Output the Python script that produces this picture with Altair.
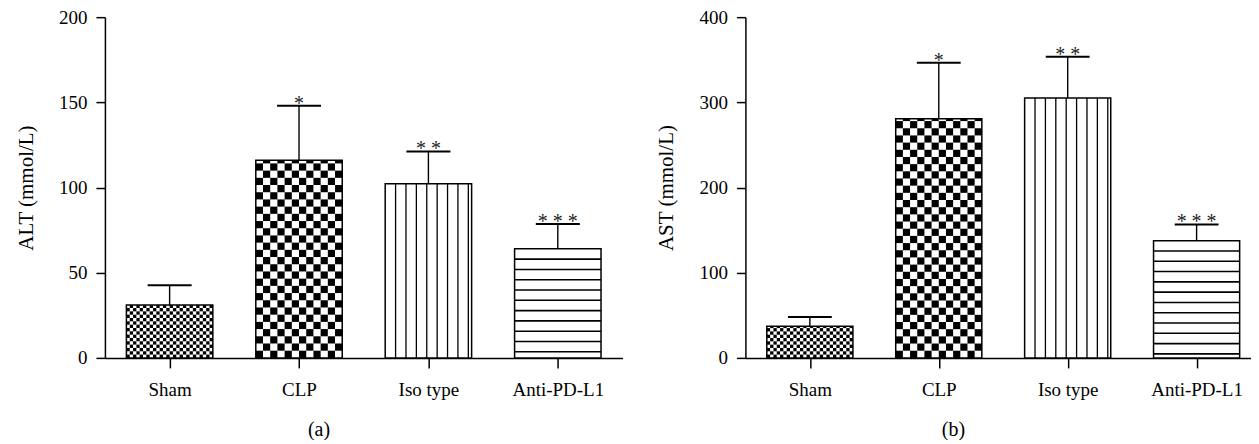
import altair as alt
import pandas as pd

# ---- data ----
groups = ["Sham", "CLP", "Iso type", "Anti-PD-L1"]
alt_mean = [31.0, 116.0, 102.2, 64.0]
alt_upper = [42.7, 148.0, 121.2, 78.6]
ast_mean = [37.2, 280.6, 305.0, 137.6]
ast_upper = [48.0, 346.5, 353.5, 156.6]
stars = ["", "*", "* *", "* * *"]
patterns = ["fine", "coarse", "vlines", "hlines"]

FONT = "Liberation Serif"
HALF = 0.334   # bar half width (in category steps)
CAP = 0.17     # error cap half width


def panel(means, uppers, ymax, ystep, ytitle, caption, width, height, tpad, xmax):
    step_px = width / (xmax + 0.5)
    ppu = height / ymax
    bars = pd.DataFrame({
        "pos": list(range(len(groups))), "mean": means, "upper": uppers, "star": stars,
    })
    bars["left"] = bars["pos"] - HALF
    bars["right"] = bars["pos"] + HALF
    bars["capl"] = bars["pos"] - CAP
    bars["capr"] = bars["pos"] + CAP
    bars["zero"] = 0.0

    cells, vlines, hlines = [], [], []
    for i, (m, pat) in enumerate(zip(means, patterns)):
        left = i - HALF
        if pat in ("fine", "coarse"):
            ncol = 26 if pat == "fine" else 12
            cw = 2 * HALF / ncol
            ch = cw * step_px / ppu
            r = 0
            while r * ch < m - 1e-9:
                y0 = r * ch
                y1 = min((r + 1) * ch, m)
                for c in range(ncol):
                    if (r + c) % 2 == 0:
                        cells.append({"x": left + c * cw, "x2": left + (c + 1) * cw, "y": y0, "y2": y1})
                r += 1
        elif pat == "vlines":
            sp = 10.4 / step_px
            k = 1
            while k * sp < 2 * HALF - 0.02:
                vlines.append({"x": left + k * sp, "y": 0.0, "y2": m})
                k += 1
        else:
            sp = 10.3 / ppu
            k = 1
            while m - k * sp > 0.3 * sp:
                hlines.append({"x": left, "x2": i + HALF, "y": m - k * sp})
                k += 1

    xscale = alt.Scale(domain=[-0.5, xmax], nice=False, zero=False)
    yscale = alt.Scale(domain=[0, ymax], nice=False)
    label_expr = "[" + ",".join("'%s'" % g for g in groups) + "][datum.value]"
    xaxis = alt.Axis(values=list(range(len(groups))), labelExpr=label_expr, title=None,
                     grid=False, tickSize=10, labelPadding=13)
    yaxis = alt.Axis(values=list(range(0, ymax + 1, ystep)), title=ytitle, grid=False,
                     tickSize=9, labelPadding=9, titlePadding=tpad)

    def X(f):
        return alt.X(f, type="quantitative", scale=xscale, axis=xaxis)

    def Y(f):
        return alt.Y(f, type="quantitative", scale=yscale, axis=yaxis)

    base = alt.Chart(bars).mark_rect(fill="white").encode(
        x=X("left"), x2="right", y=Y("mean"), y2="zero")
    layers = [base]
    if cells:
        layers.append(alt.Chart(pd.DataFrame(cells)).mark_rect(fill="black").encode(
            x=X("x"), x2="x2", y=Y("y"), y2="y2"))
    if vlines:
        layers.append(alt.Chart(pd.DataFrame(vlines)).mark_rule(color="black", strokeWidth=1.3).encode(
            x=X("x"), y=Y("y"), y2="y2"))
    if hlines:
        layers.append(alt.Chart(pd.DataFrame(hlines)).mark_rule(color="black", strokeWidth=1.6).encode(
            x=X("x"), x2="x2", y=Y("y")))
    outline = alt.Chart(bars).mark_rect(fill="white", fillOpacity=0, stroke="black", strokeWidth=1.5).encode(
        x=X("left"), x2="right", y=Y("mean"), y2="zero")
    err = alt.Chart(bars).mark_rule(color="black", strokeWidth=1.4).encode(
        x=X("pos"), y=Y("mean"), y2="upper")
    cap = alt.Chart(bars).mark_rule(color="black", strokeWidth=2).encode(
        x=X("capl"), x2="capr", y=Y("upper"))
    txt = alt.Chart(bars).mark_text(font=FONT, fontSize=20, baseline="alphabetic", dy=4, color="#222").encode(
        x=X("pos"), y=Y("upper"), text="star:N")
    layers += [outline, err, cap, txt]
    return alt.layer(*layers).properties(
        width=width, height=height,
        title=alt.TitleParams(caption, orient="bottom", frame="bounds", font=FONT, fontSize=20,
                              fontWeight="normal", offset=20, color="black"))


pa = panel(alt_mean, alt_upper, 200, 50, "ALT (mmol/L)", "(a)", 518, 341, 22, 3.5)
pb = panel(ast_mean, ast_upper, 400, 100, "AST (mmol/L)", "(b)", 506, 341, 22, 3.422)

chart = alt.hconcat(pa, pb, spacing=33).properties(
    padding={"left": 7, "top": 0, "right": 0, "bottom": 0}
).configure_view(stroke=None).configure_axis(
    labelFont=FONT, titleFont=FONT, labelFontSize=19, titleFontSize=21,
    titleFontWeight="normal", labelColor="black", titleColor="black",
    domainColor="black", tickColor="black", domainWidth=1.5, tickWidth=1.5,
)

chart.save("out.html", embed_options={"renderer": "svg", "actions": False})
